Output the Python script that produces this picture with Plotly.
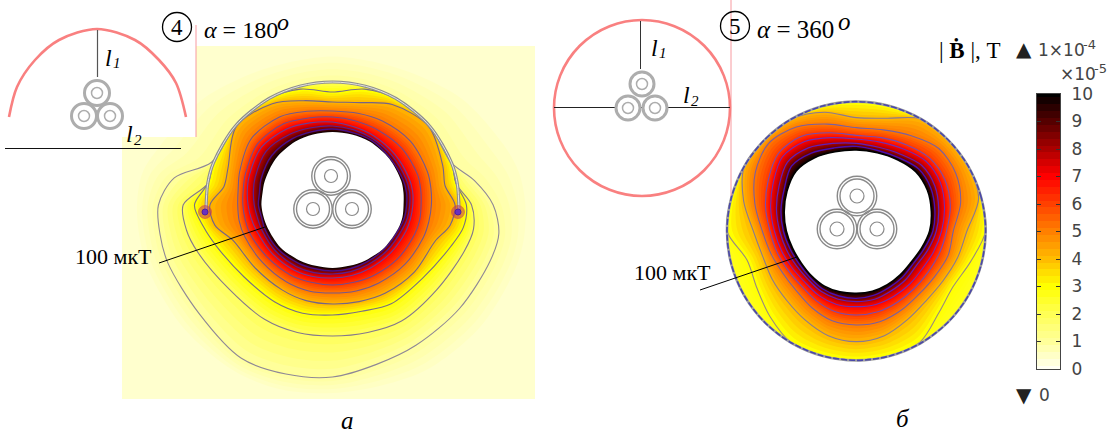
import numpy as np
import plotly.graph_objects as go

# ---------- colour scale ----------
SCALE_VALUES = [0, 1, 2, 3, 4, 5, 6, 7, 8, 9, 10]
SCALE_COLORS = [(255,255,244),(255,255,154),(255,255,85),(255,255,0),(255,188,0),(255,128,0),
                (255,64,0),(255,0,0),(170,0,0),(85,0,0),(0,0,0)]
TICK_LABELS = [str(v) for v in SCALE_VALUES]

# ---------- panel a: iso-lines, radius read at each angle ----------
ANGLES_A = [0,10,20,40,60,75,90,105,120,140,160,170,180,190,200,220,240,255,270,285,300,320,340,350]
A_EDGE = [195,195,190,175,160,155,155,155,160,175,190,195,195,195,195,195,195,195,192,192,195,195,195,195]
A_L1 = [156,140,123,123,123,123,123,123,123,123,125,156,169,170,170,169,177,175,172,165,162,161,163,164]
A_L2 = [135,122,123,123,123,123,123,123,123,123,123,123,145,144,139,131,132,132,131,132,134,132,136,139]
A_L3 = [130,122,123,123,123,120,113,120,123,123,123,123,134,127,120,112,112,112,110,110,114,114,122,129]
A_L4 = [119,111,114,122,116,106,103,108,117,122,108,107,119,116,103,98,98,99,99,100,102,104,106,116]
A_L5 = [96,97,98,99,97,95,94,97,102,103,96,93,92,92,91,89,89,89,88,89,90,92,94,95]
A_L6 = [86,87,88,88,87,87,88,90,94,95,90,88,87,86,85,82,81,80,80,80,81,83,85,86]
A_L7 = [78,79,79,79,80,81,83,85,88,90,86,84,82,80,78,76,75,74,73,73,73,74,76,77]
A_L8 = [75,76,76,76,77,78,79,80,82,84,80,78,76,74,73,72,71,70,69,69,69,70,72,74]
A_L9 = [72,73,73,73,75,75,76,76,77,77,74,72,72,70,70,69,67,66,66,66,66,67,69,71]
A_L10 = [69,70,71,72,73,73,73,73,73,72,70,69,69,68,67,66,64,63,63,63,64,66,68,69]
DOME_ANGLES = [-3,10,20,40,60,75,90,105,120,140,160,170,183]
DOME_R = [123]*13
LUG_X = [205,458]
LUG_Y = [212,212]

# ---------- panel b: iso-lines, radius read at every 15 degrees ----------
ANGLES_B = [0,15,30,45,60,75,90,105,120,135,150,165,180,195,210,225,240,255,270,285,300,315,330,345]
B_L3 = [388,388,388,388,388,388,388,388,388,388,388,388,388,339,344,365,388,388,388,388,384,349,335,355]
B_L4 = [332,380,388,388,388,350,340,369,388,388,388,350,309,291,291,295,308,325,332,325,307,296,300,314]
B_L5 = [291,324,345,350,330,314,310,332,360,372,350,315,282,265,254,254,266,279,282,281,273,267,272,285]
B_L6 = [271,292,307,310,299,290,287,305,328,330,305,282,259,246,236,233,241,250,252,251,247,245,248,258]
B_L7 = [256,274,291,296,284,276,276,290,310,314,288,266,246,232,222,218,224,228,227,228,226,226,228,240]
B_L8 = [240,256,272,278,266,260,263,272,288,292,268,248,230,217,208,205,210,212,212,212,208,208,208,222]
B_L9 = [230,244,258,264,254,250,254,258,270,275,250,234,219,206,198,197,201,202,202,200,196,196,197,210]
B_L10 = [220,233,246,252,247,243,243,246,253,255,240,224,210,198,191,190,191,189,187,187,186,186,189,202]
B_BOUND = [388]*24

# ---------- cables ----------
CABLE_A_X = [331,313,352]
CABLE_A_Y = [176,209,209]
CABLE_B_X = [857,837,877]
CABLE_B_Y = [196,229,229]
INSET_A_X = [97,84,110]
INSET_A_Y = [93,116,116]
INSET_B_X = [642,628,655]
INSET_B_Y = [84,108,108]

# ---------- inset sketches ----------
ARC_X = [9,17,35,59,97,135,159,176,186]
ARC_Y = [117,87,60,40,29,40,60,83,117]

def color_at(v):
    rgb = [np.interp(v, SCALE_VALUES, [c[i] for c in SCALE_COLORS]) for i in range(3)]
    return "rgb(%d,%d,%d)" % tuple(rgb)

def ring(angles, radii, cx, cy, sx, sy, closed=True):
    a = list(angles) + ([angles[0]] if closed else [])
    rr = list(radii) + ([radii[0]] if closed else [])
    t = np.radians(a)
    r = np.array(rr, dtype=float)
    return cx + r*np.cos(t)*sx, cy - r*np.sin(t)*sy

fig = go.Figure()

def poly(x, y, fill, shape="spline"):
    fig.add_trace(go.Scatter(x=x, y=y, mode="lines", fill="toself", fillcolor=fill,
                             line=dict(width=0, shape=shape, smoothing=0.9), hoverinfo="skip"))

def line(x, y, color, width=1.0, shape="spline", dash=None):
    fig.add_trace(go.Scatter(x=x, y=y, mode="lines", hoverinfo="skip",
                             line=dict(color=color, width=width, shape=shape, smoothing=0.9, dash=dash)))

def dots(x, y, size, color, width, fill=None):
    fig.add_trace(go.Scatter(x=x, y=y, mode="markers", hoverinfo="skip",
                             marker=dict(size=size, color=fill if fill else "rgba(0,0,0,0)",
                                         line=dict(color=color, width=width))))

def field(levels, values, angles, cx, cy, sx, sy, steps=5):
    for (ra, va), (rb, vb) in zip(zip(levels[:-1], values[:-1]), zip(levels[1:], values[1:])):
        for k in range(steps):
            f = k/steps
            r = (1-f)*np.array(ra, float) + f*np.array(rb, float)
            x, y = ring(angles, r, cx, cy, sx, sy)
            poly(x, y, color_at((1-f)*va + f*vb))

# panel a
CXA, CYA, SXA = 332.5, 205, 1.03
poly([122,535,535,122,122], [46,46,399,399,46], color_at(0.42), "linear")
A_LEVELS = [A_EDGE,A_L1,A_L2,A_L3,A_L4,A_L5,A_L6,A_L7,A_L8,A_L9,A_L10]
A_VALUES = [0.42,1,2,3,4.2,5.2,6.2,7.1,8,9,10]
field(A_LEVELS, A_VALUES, ANGLES_A, CXA, CYA, SXA, 1)
for r, c, w in [(A_L1,"#8f8896",1.1),(A_L2,"#84798c",1.1),(A_L3,"#7a7084",1.1),(A_L4,"#746488",1.1),
                (A_L5,"#76588c",1.1),(A_L6,"#764a8c",1.1),(A_L7,"#6c4094",1.1),(A_L8,"#5a2090",1.2),(A_L9,"#4a1088",1.4)]:
    x, y = ring(ANGLES_A, r, CXA, CYA, SXA, 1)
    line(x, y, c, w)
x, y = ring(ANGLES_A, A_L10, CXA, CYA, SXA, 1)
poly(x, y, "#ffffff")
dx, dy = ring(DOME_ANGLES, DOME_R, CXA, CYA, SXA, 1, closed=False)
line(dx, dy, "#8f8f8f", 3.2)
line(dx, dy, "#e4e4dc", 1.0)
dots(LUG_X, LUG_Y, 13, "rgba(200,60,90,0.5)", 1, fill="rgba(190,50,90,0.5)")
dots(LUG_X, LUG_Y, 6, "#5020a0", 1, fill="#6a30c0")
dots(CABLE_A_X, CABLE_A_Y, 38.5, "#8a8a8a", 1.4)
dots(CABLE_A_X, CABLE_A_Y, 33, "#8a8a8a", 1.4)
dots(CABLE_A_X, CABLE_A_Y, 13, "#8a8a8a", 1.2)

# panel b
CXB, CYB, SB = 856.3, 231, 1/3
B_LEVELS = [B_BOUND,B_L3,B_L4,B_L5,B_L6,B_L7,B_L8,B_L9,B_L10]
B_VALUES = [2.7,3,4.2,5.2,6.2,7.1,8,9,10]
field(B_LEVELS, B_VALUES, ANGLES_B, CXB, CYB, SB, SB)
for r, c, w in [(B_L3,"#9a8a80",1.1),(B_L4,"#8a7a90",1.1),(B_L5,"#7a60a0",1.1),(B_L6,"#7a4ab0",1.1),
                (B_L7,"#7030b0",1.1),(B_L8,"#6020b8",1.2),(B_L9,"#4a10b0",1.4)]:
    x, y = ring(ANGLES_B, r, CXB, CYB, SB, SB)
    line(x, y, c, w)
x, y = ring(ANGLES_B, B_L10, CXB, CYB, SB, SB)
poly(x, y, "#ffffff")
line(x, y, "#000000", 1.6)
bx, by = ring(ANGLES_B, B_BOUND, CXB, CYB, SB, SB)
line(bx, by, "#a0a0a0", 2.6)
line(bx, by, "#4a48a8", 1.6, dash="6px,2px")
dots(CABLE_B_X, CABLE_B_Y, 39.5, "#8a8a8a", 1.4)
dots(CABLE_B_X, CABLE_B_Y, 34, "#8a8a8a", 1.4)
dots(CABLE_B_X, CABLE_B_Y, 14, "#8a8a8a", 1.2)

# inset a
poly([0,196,196,0,0], [0,0,137,137,0], "#ffffff", "linear")
line([196,196], [25,137], "#f79aa0", 1.0, "linear")
line(ARC_X, ARC_Y, "#f98080", 2.6)
line([97.5,97.5], [30,77], "#555555", 1.2, "linear")
line([5,181], [148.5,148.5], "#111111", 1.0, "linear")
dots(INSET_A_X, INSET_A_Y, 25, "#adadad", 3, fill="#ffffff")
dots(INSET_A_X, INSET_A_Y, 11, "#adadad", 1.5)

# inset b
line([731,731], [0,196], "#f79aa0", 1.0, "linear")
dots([642], [108], 176, "#f98080", 2.6)
line([640.5,640.5], [21,69], "#333333", 1.0, "linear")
line([554,730], [107.5,107.5], "#222222", 1.0, "linear")
dots(INSET_B_X, INSET_B_Y, 24, "#adadad", 3, fill="#ffffff")
dots(INSET_B_X, INSET_B_Y, 11, "#adadad", 1.5)

# leader lines and numbered circles
line([159,265], [263,227], "#000000", 1.0, "linear")
line([700,797], [290,257], "#000000", 1.0, "linear")
dots([177,735], [27,26], 29, "#000000", 1.3)

# colour bar
BAR_VALUES = [v/4 for v in range(41)]
fig.add_trace(go.Heatmap(x=[0,1], y=BAR_VALUES, z=[[v,v] for v in BAR_VALUES], xaxis="x2", yaxis="y2",
                         zmin=0, zmax=10, showscale=False, hoverinfo="skip",
                         colorscale=[[v/10, color_at(v)] for v in SCALE_VALUES]))

SERIF = "Liberation Serif"
SANS = "DejaVu Sans"
def txt(x, y, s, size=20, font=SERIF, color="#000000", anchor="left"):
    fig.add_annotation(x=x, y=y, text=s, xref="x", yref="y", showarrow=False, xanchor=anchor, yanchor="middle",
                       font=dict(family=font, size=size, color=color), borderpad=0, borderwidth=0)

txt(177, 27, "4", 23, anchor="center")
txt(735, 26, "5", 23, anchor="center")
txt(204, 30, "<i>α</i> = 180", 24)
txt(277, 22, "<i>o</i>", 24)
txt(757, 29, "<i>α</i> = 360", 25)
txt(838, 21, "<i>o</i>", 25)
txt(105, 58, "<i>l</i>", 24)
txt(113, 63, "<i>1</i>", 15)
txt(126, 134, "<i>l</i>", 24)
txt(134, 140, "<i>2</i>", 15)
txt(651, 48, "<i>l</i>", 24)
txt(659, 53, "<i>1</i>", 15)
txt(683, 95, "<i>l</i>", 24)
txt(691, 101, "<i>2</i>", 15)
txt(75, 256, "100 мкТ", 22)
txt(634, 272, "100 мкТ", 22)
txt(347, 420, "<i>а</i>", 25, anchor="center")
txt(903, 418, "<i>б</i>", 25, anchor="center")
txt(939, 50, "| <b>B\u0307</b> |, Т", 23)
txt(1024, 49, "▲", 20, SANS, "#222222", "center")
txt(1024, 395, "▼", 20, SANS, "#222222", "center")
txt(1038, 50, "1×10", 17, SANS, "#444444")
txt(1083, 44, "-4", 13, SANS, "#444444")
txt(1060, 74, "×10", 17, SANS, "#444444")
txt(1094, 68, "-5", 13, SANS, "#444444")
txt(1039, 395, "0", 17, SANS, "#444444")

W, H = 1112, 433
fig.update_layout(
    width=W, height=H, margin=dict(l=0, r=0, t=0, b=0, autoexpand=False), showlegend=False,
    paper_bgcolor="#ffffff", plot_bgcolor="rgba(0,0,0,0)",
    xaxis=dict(range=[0, W], visible=False, domain=[0, 1], fixedrange=True),
    yaxis=dict(range=[H, 0], visible=False, domain=[0, 1], fixedrange=True),
    xaxis2=dict(domain=[1037/W, 1060/W], anchor="y2", range=[0, 1], showticklabels=False, ticks="",
                showline=True, mirror=True, linecolor="#444444", linewidth=1.3, showgrid=False, zeroline=False),
    yaxis2=dict(domain=[(H-369)/H, (H-94)/H], anchor="x2", side="right", range=[0, 10],
                tickvals=SCALE_VALUES, ticktext=TICK_LABELS, ticks="inside", ticklen=4, tickcolor="#333333",
                mirror="ticks", showline=True, linecolor="#444444", linewidth=1.3, showgrid=False, zeroline=False,
                ticklabelstandoff=7, tickfont=dict(family=SANS, size=17, color="#444444")),
)
fig.write_html("out.html", config={"displayModeBar": False},
               post_script="document.body.style.margin='0';document.documentElement.style.overflow='hidden';")
